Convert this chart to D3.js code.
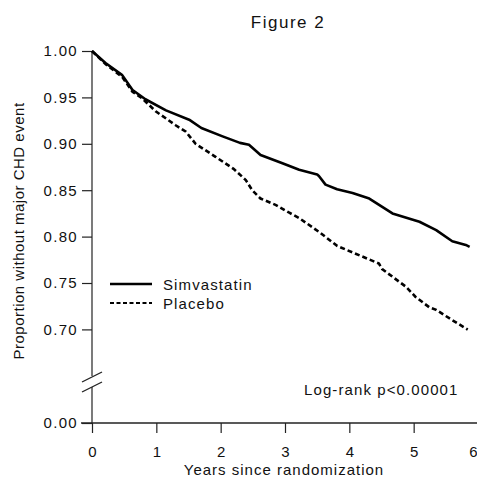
<!DOCTYPE html>
<html><head><meta charset="utf-8">
<script src="https://cdn.jsdelivr.net/npm/d3@7/dist/d3.min.js"></script>
<style>
body{margin:0;background:#fff;}
text{font-family:"Liberation Sans",Arial,Helvetica,sans-serif;fill:#111;}
</style></head>
<body><svg id="c" width="477" height="480"></svg>
<script>
const simvT = [0,0.21,0.47,0.63,0.83,1.15,1.51,1.70,2.03,2.30,2.44,2.62,2.96,3.22,3.50,3.53,3.63,3.81,4.05,4.31,4.67,5.09,5.35,5.60,5.81,5.87];
const simvV = [1.000,0.987,0.974,0.958,0.948,0.936,0.926,0.917,0.908,0.901,0.899,0.888,0.879,0.872,0.867,0.865,0.856,0.851,0.847,0.841,0.825,0.816,0.807,0.795,0.791,0.789];
const placT = [0,0.21,0.47,0.63,0.78,0.99,1.30,1.46,1.61,1.92,2.20,2.39,2.49,2.62,2.86,3.06,3.22,3.53,3.81,4.15,4.46,4.51,4.88,5.03,5.24,5.35,5.60,5.84];
const placV = [1.000,0.986,0.972,0.956,0.949,0.935,0.920,0.913,0.900,0.886,0.873,0.861,0.850,0.841,0.834,0.826,0.820,0.805,0.790,0.780,0.771,0.765,0.746,0.735,0.724,0.721,0.710,0.699];
const xTicks = [0,1,2,3,4,5,6];
const yTicks = [0,0.70,0.75,0.80,0.85,0.90,0.95,1.00];
const seriesNames = ["Simvastatin","Placebo"];

const svg = d3.select("#c");
const x = d3.scaleLinear().domain([0,6]).range([92,478]);
const y = d3.scaleLinear().domain([0,0.70,1.00]).range([423,329.4,51]);

// title
svg.append("text").attr("x",288).attr("y",28).attr("text-anchor","middle")
  .style("font-size","17px").style("letter-spacing","1.5px").text("Figure 2");

// y axis
const ya = svg.append("g").attr("transform","translate(92,0)")
  .call(d3.axisLeft(y).tickValues(yTicks).tickFormat(d3.format(".2f")).tickSize(10).tickPadding(4));
ya.select(".domain").remove();
ya.selectAll("line").attr("stroke","#222").attr("stroke-width",1.2);
ya.selectAll("text").style("font-size","15px").style("letter-spacing","1.3px").style("font-family","Liberation Sans, Arial, sans-serif").attr("fill","#222");
svg.append("line").attr("x1",92).attr("x2",92).attr("y1",y(1)).attr("y2",376).attr("stroke","#222").attr("stroke-width",1.2);
svg.append("line").attr("x1",92).attr("x2",92).attr("y1",387).attr("y2",423).attr("stroke","#222").attr("stroke-width",1.2);
svg.append("line").attr("x1",82).attr("y1",382).attr("x2",102).attr("y2",372).attr("stroke","#222").attr("stroke-width",1.3);
svg.append("line").attr("x1",82).attr("y1",392).attr("x2",102).attr("y2",382).attr("stroke","#222").attr("stroke-width",1.3);

// x axis
const xa = svg.append("g").attr("transform","translate(0,423)")
  .call(d3.axisBottom(x).tickValues(xTicks).tickFormat(d3.format("d")).tickSize(10).tickPadding(13));
xa.select(".domain").remove();
xa.selectAll("line").attr("stroke","#222").attr("stroke-width",1.2);
xa.selectAll("text").style("font-size","15px").style("font-family","Liberation Sans, Arial, sans-serif").attr("fill","#222");
xa.selectAll("text").filter(d=>d===6).attr("dx",-5);
svg.append("line").attr("x1",81).attr("x2",477).attr("y1",423).attr("y2",423).attr("stroke","#222").attr("stroke-width",1.3);

// axis labels
svg.append("text").attr("x",284).attr("y",475).attr("text-anchor","middle")
  .style("font-size","15px").style("letter-spacing","1px").text("Years since randomization");
svg.append("text").attr("transform","translate(24,231) rotate(-90)").attr("text-anchor","middle")
  .style("font-size","15px").style("letter-spacing","0.5px").text("Proportion without major CHD event");

// curves
const line = d3.line().x(d=>x(d[0])).y(d=>y(d[1]));
const simv = simvT.map((t,i)=>[t,simvV[i]]);
const plac = placT.map((t,i)=>[t,placV[i]]);
svg.append("path").datum(simv).attr("d",line).attr("fill","none").attr("stroke","#000").attr("stroke-width",2.6).attr("stroke-linejoin","round");
svg.append("path").datum(plac).attr("d",line).attr("fill","none").attr("stroke","#000").attr("stroke-width",2.6).attr("stroke-dasharray","5,3");

// legend
svg.append("line").attr("x1",110).attr("x2",152).attr("y1",284).attr("y2",284).attr("stroke","#000").attr("stroke-width",2.4);
svg.append("line").attr("x1",110).attr("x2",152).attr("y1",303).attr("y2",303).attr("stroke","#000").attr("stroke-width",2.2).attr("stroke-dasharray","4,2.5");
svg.append("text").attr("x",163).attr("y",289.5).style("font-size","15px").style("letter-spacing","1.1px").text(seriesNames[0]);
svg.append("text").attr("x",163).attr("y",309).style("font-size","15px").style("letter-spacing","1.1px").text(seriesNames[1]);

// annotation
svg.append("text").attr("x",304).attr("y",395).style("font-size","15px").style("letter-spacing","1.1px").text("Log-rank p<0.00001");
</script></body></html>
